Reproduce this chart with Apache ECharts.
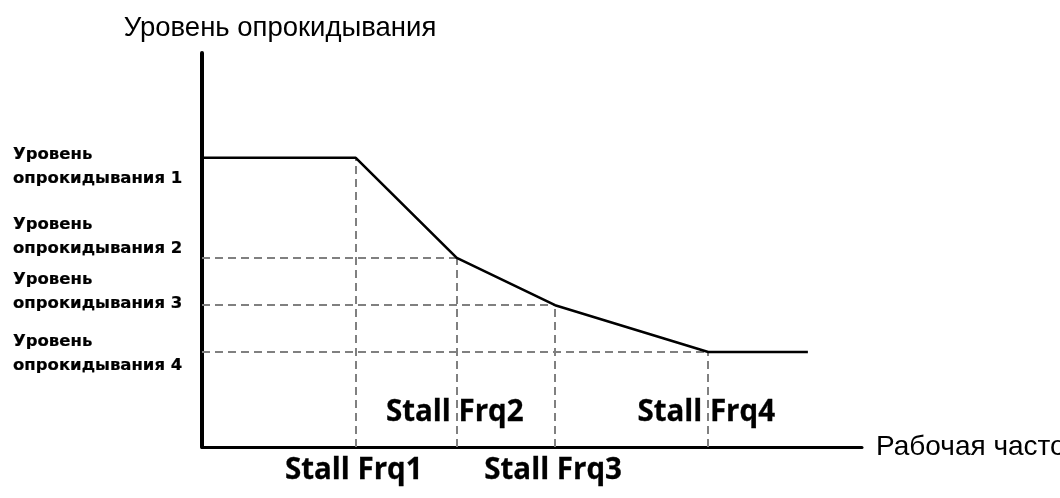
<!DOCTYPE html>
<html>
<head>
<meta charset="utf-8">
<script src="https://cdn.jsdelivr.net/npm/echarts@6/dist/echarts.min.js"></script>
<style>
  html, body { margin: 0; padding: 0; background: #ffffff; }
  #chart { width: 1060px; height: 498px; }
</style>
</head>
<body>
<div id="chart"></div>
<script>
// Stall frequency breakpoints on the operating-frequency axis (0..100)
const stallFreqs = [23.3, 38.6, 53.5, 76.7];
// Stall levels reached at each breakpoint (0..100)
const stallLevels = [73.4, 48.0, 36.0, 24.1];
// Frequency where the drawn curve stops
const curveEndFreq = 91.8;

const levelLabels = [
  'Уровень\nопрокидывания 1',
  'Уровень\nопрокидывания 2',
  'Уровень\nопрокидывания 3',
  'Уровень\nопрокидывания 4'
];
const freqLabels = ['Stall Frq1', 'Stall Frq2', 'Stall Frq3', 'Stall Frq4'];
const yAxisName = 'Уровень опрокидывания';
const xAxisName = 'Рабочая частота';

// Stall curve: flat at level 1, falling through each breakpoint, flat at level 4
const curve = [[0, stallLevels[0]]];
stallFreqs.forEach((f, i) => curve.push([f, stallLevels[i]]));
curve.push([curveEndFreq, stallLevels[stallLevels.length - 1]]);

// Dashed guides: verticals from each breakpoint down to the frequency axis,
// horizontals from the level axis to breakpoints 2..4
const guides = [];
stallFreqs.forEach((f, i) => {
  guides.push([{ coord: [f, 0] }, { coord: [f, stallLevels[i]] }]);
  if (i > 0) guides.push([{ coord: [0, stallLevels[i]] }, { coord: [f, stallLevels[i]] }]);
});

// Vertical nudges of the level captions relative to their level
const levelLabelShift = [9, -21, -13, 2];
// Frequency captions alternate below / above the frequency axis
const freqLabelShift = [24, -34, 24, -34];

const levelTextStyle = {
  fontFamily: 'DejaVu Sans', fontWeight: 'bold', fontSize: 16.5, lineHeight: 24, color: '#000',
  opacity: 1, textBorderColor: '#000', textBorderWidth: 0.2
};
const freqTextStyle = {
  fontFamily: 'Open Sans', fontWeight: 'bold', fontSize: 29.5, color: '#000',
  opacity: 1, textBorderColor: '#000', textBorderWidth: 0.3
};

const captions = [];
stallLevels.forEach((v, i) => {
  captions.push({
    value: [0, v],
    label: Object.assign({
      show: true, formatter: levelLabels[i], position: 'inside',
      align: 'left', verticalAlign: 'middle', offset: [-189, levelLabelShift[i]]
    }, levelTextStyle)
  });
});
stallFreqs.forEach((f, i) => {
  captions.push({
    value: [f, 0],
    label: Object.assign({
      show: true, formatter: freqLabels[i], position: 'inside',
      align: 'center', verticalAlign: 'middle', offset: [-2, freqLabelShift[i]]
    }, freqTextStyle)
  });
});

const chart = echarts.init(document.getElementById('chart'), null, { renderer: 'canvas' });
chart.setOption({
  animation: false,
  backgroundColor: '#ffffff',
  grid: { left: 202, right: 198, top: 53, bottom: 51, containLabel: false, outerBoundsMode: 'none' },
  xAxis: {
    type: 'value', min: 0, max: 100,
    axisLine: { show: true, onZero: false, lineStyle: { color: '#000', width: 3 } },
    axisTick: { show: false }, axisLabel: { show: false }, splitLine: { show: false },
    name: xAxisName, nameLocation: 'end', nameGap: 14,
    nameTextStyle: { fontFamily: 'Liberation Sans', fontSize: 28, color: '#000', align: 'left', verticalAlign: 'middle' }
  },
  yAxis: {
    type: 'value', min: 0, max: 100,
    axisLine: { show: true, onZero: false, lineStyle: { color: '#000', width: 4 } },
    axisTick: { show: false }, axisLabel: { show: false }, splitLine: { show: false },
    name: yAxisName, nameLocation: 'end', nameGap: 25,
    nameTextStyle: {
      fontFamily: 'Liberation Sans', fontSize: 27.5, color: '#000',
      align: 'center', verticalAlign: 'middle', padding: [0, 0, 0, 156]
    }
  },
  series: [
    {
      type: 'line',
      data: curve,
      symbol: 'none',
      z: 3,
      lineStyle: { color: '#000', width: 2.6 },
      markLine: {
        silent: true,
        symbol: ['none', 'none'],
        label: { show: false },
        lineStyle: { color: '#808080', width: 2, type: [8, 5] },
        data: guides,
        z: 2
      }
    },
    {
      type: 'scatter',
      data: captions,
      symbolSize: 0,
      itemStyle: { opacity: 1 },
      clip: false,
      silent: true,
      z: 4
    }
  ]
});
</script>
</body>
</html>
